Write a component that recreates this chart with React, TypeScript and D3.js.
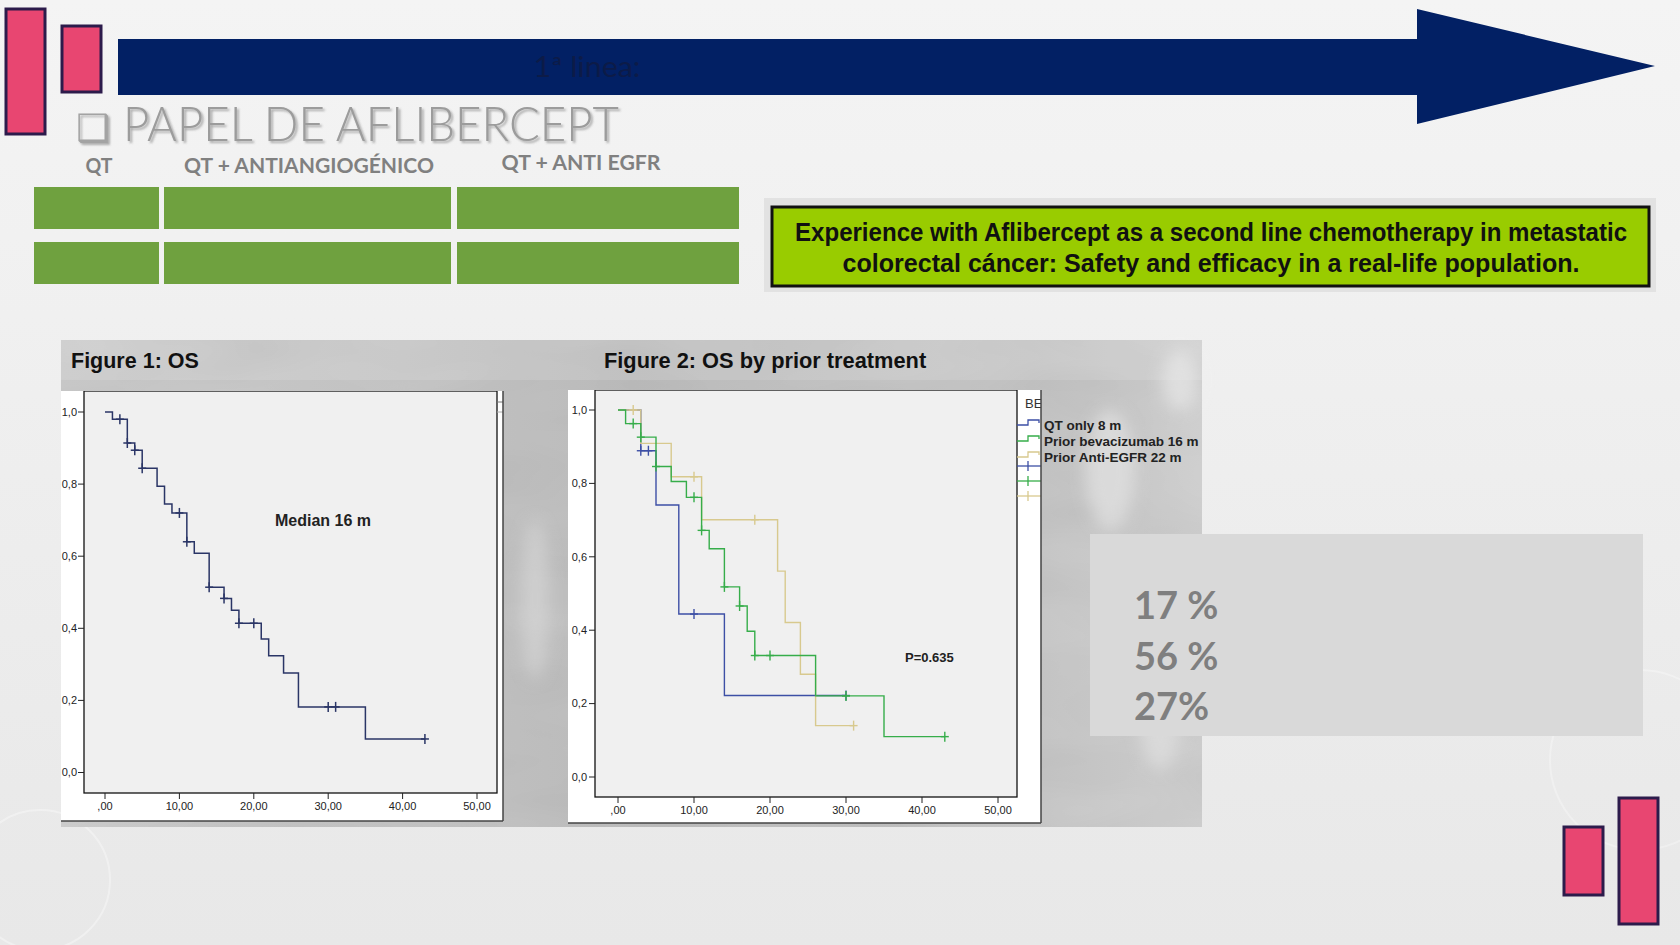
import React from 'react';
import * as d3 from 'd3';

const W = 1680;
const H = 945;

// ---- slide texts ----
const arrowLabel = '1ª linea:';
const sectionTitle = 'PAPEL DE AFLIBERCEPT';
const lineTypes = ['QT', 'QT + ANTIANGIOGÉNICO', 'QT + ANTI EGFR'];
const titleLines = [
  'Experience with Aflibercept as a second line chemotherapy in metastatic',
  'colorectal cáncer: Safety and efficacy in a real-life population.',
];
const percentLabels = ['17 %', '56 %', '27%'];

// ---- axis ticks ----
const xTicks = [0, 10, 20, 30, 40, 50];
const xTickLabels = [',00', '10,00', '20,00', '30,00', '40,00', '50,00'];
const yTicks = [0, 0.2, 0.4, 0.6, 0.8, 1.0];
const yTickLabels = ['0,0', '0,2', '0,4', '0,6', '0,8', '1,0'];

// ---- Figure 1: overall survival ----
const osTimes = [0, 1, 3, 4, 5, 7, 8, 9, 11, 12, 14, 16, 17, 18, 21, 22, 24, 26, 35, 43];
const osSurv = [1, 0.98, 0.914, 0.894, 0.844, 0.794, 0.745, 0.72, 0.64, 0.608, 0.514, 0.483, 0.45, 0.414, 0.37, 0.324, 0.276, 0.182, 0.093, 0.093];
const osCensor = [2, 3, 4, 5, 10, 11, 14, 16, 18, 20, 30, 31, 43];

// ---- Figure 2: by prior treatment ----
const seriesNames = ['QT only 8 m', 'Prior bevacizumab 16 m', 'Prior Anti-EGFR 22 m'];
const qtTimes = [0, 3, 5, 8, 14, 30];
const qtSurv = [1, 0.889, 0.741, 0.444, 0.222, 0.222];
const qtCensor = [3, 4, 10, 30];
const bevTimes = [0, 1, 3, 5, 7, 9, 11, 12, 14, 16, 17, 18, 26, 35, 43];
const bevSurv = [1, 0.963, 0.926, 0.846, 0.805, 0.762, 0.672, 0.622, 0.518, 0.466, 0.397, 0.331, 0.221, 0.11, 0.11];
const bevCensor = [2, 3, 5, 10, 11, 14, 16, 18, 20, 30, 43];
const egfrTimes = [0, 3, 7, 11, 21, 22, 24, 26, 31];
const egfrSurv = [1, 0.909, 0.818, 0.701, 0.561, 0.421, 0.28, 0.14, 0.14];
const egfrCensor = [2, 10, 18, 31];

const survAt = (times: number[], surv: number[], t: number) => {
  const i = d3.bisectRight(times, t) - 1;
  return surv[Math.max(0, Math.min(i, surv.length - 1))];
};

type Series = { times: number[]; surv: number[]; censor: number[]; color: string; width: number };

function KM(props: {
  id: string;
  frame: { x0: number; x1: number; y0: number; y1: number };
  plot: { x0: number; x1: number; y0: number; y1: number };
  xr: [number, number];
  yr: [number, number];
  series: Series[];
  labelX: number;
  children?: React.ReactNode;
}) {
  const { frame, plot, series } = props;
  const x = d3.scaleLinear().domain([0, 50]).range(props.xr);
  const y = d3.scaleLinear().domain([0, 1]).range(props.yr);
  const line = d3
    .line<[number, number]>()
    .x((d) => x(d[0]))
    .y((d) => y(d[1]))
    .curve(d3.curveStepAfter);
  return (
    <g>
      <defs>
        <clipPath id={props.id}>
          <rect x={frame.x0} y={frame.y0} width={frame.x1 - frame.x0} height={frame.y1 - frame.y0} />
        </clipPath>
      </defs>
      <rect x={frame.x0} y={frame.y0} width={frame.x1 - frame.x0} height={frame.y1 - frame.y0} fill="#ffffff" />
      <g clipPath={`url(#${props.id})`}>
        <rect x={plot.x0} y={plot.y0} width={plot.x1 - plot.x0} height={plot.y1 - plot.y0} fill="#f0f0f0" stroke="#111" strokeWidth={1.3} />
        {yTicks.map((t, i) => (
          <g key={'y' + i}>
            <line x1={plot.x0 - 6} x2={plot.x0} y1={y(t)} y2={y(t)} stroke="#222" strokeWidth={1} />
            <text x={props.labelX} y={y(t)} dy="0.35em" textAnchor="end" fontFamily="Liberation Sans, Arial" fontSize={11} fill="#222">
              {yTickLabels[i]}
            </text>
          </g>
        ))}
        {xTicks.map((t, i) => (
          <g key={'x' + i}>
            <line x1={x(t)} x2={x(t)} y1={plot.y1} y2={plot.y1 + 6} stroke="#222" strokeWidth={1} />
            <text x={x(t)} y={plot.y1 + 17} textAnchor="middle" fontFamily="Liberation Sans, Arial" fontSize={11} fill="#222">
              {xTickLabels[i]}
            </text>
          </g>
        ))}
        {series.map((s, si) => (
          <g key={'s' + si}>
            <path
              d={line(s.times.map((t, i) => [t, s.surv[i]] as [number, number])) || ''}
              fill="none"
              stroke={s.color}
              strokeWidth={s.width}
            />
            {s.censor.map((t, ci) => {
              const cx = x(t);
              const cy = y(survAt(s.times, s.surv, t));
              return (
                <g key={ci} stroke={s.color} strokeWidth={s.width}>
                  <line x1={cx - 4} x2={cx + 4} y1={cy} y2={cy} />
                  <line x1={cx} x2={cx} y1={cy - 5} y2={cy + 5} />
                </g>
              );
            })}
          </g>
        ))}
        {props.children}
      </g>
      <line x1={frame.x0} x2={frame.x1} y1={frame.y1} y2={frame.y1} stroke="#444" strokeWidth={1.5} />
      <line x1={frame.x1} x2={frame.x1} y1={frame.y0} y2={frame.y1} stroke="#444" strokeWidth={1.5} />
    </g>
  );
}

export default function App() {
  const fig2Colors = ['#3d4fa5', '#36ad4a', '#d8c98e'];
  const fig2Series: Series[] = [
    { times: qtTimes, surv: qtSurv, censor: qtCensor, color: fig2Colors[0], width: 1.4 },
    { times: egfrTimes, surv: egfrSurv, censor: egfrCensor, color: fig2Colors[2], width: 1.4 },
    { times: bevTimes, surv: bevSurv, censor: bevCensor, color: fig2Colors[1], width: 1.4 },
  ];
  const colX = [34, 164, 457];
  const colW = [125, 287, 282];
  const headerX = [99, 309, 581];
  const headerW = [27, 250, 159];
  const headerY = [166, 166, 163];
  const legendY = [425, 441, 457];
  const titleScale = [0.86, 0.86];

  return (
    <div style={{ position: 'absolute', left: 0, top: 0 }}>
      <svg width={W} height={H} viewBox={`0 0 ${W} ${H}`} style={{ display: 'block' }}>
        <defs>
          <linearGradient id="bg" x1="0" y1="0" x2="0" y2="1">
            <stop offset="0" stopColor="#f4f4f4" />
            <stop offset="1" stopColor="#e8e8e8" />
          </linearGradient>
          <linearGradient id="tex" x1="0" y1="0" x2="1" y2="0">
            <stop offset="0" stopColor="#c9c9c9" />
            <stop offset="0.3" stopColor="#c2c2c2" />
            <stop offset="0.5" stopColor="#bababa" />
            <stop offset="0.85" stopColor="#c4c4c4" />
            <stop offset="1" stopColor="#cfcfcf" />
          </linearGradient>
          <filter id="noise" x="0" y="0" width="1" height="1">
            <feTurbulence type="fractalNoise" baseFrequency="0.006 0.02" numOctaves={2} seed={7} result="n" />
            <feColorMatrix type="saturate" values="0" in="n" result="g" />
            <feComponentTransfer in="g">
              <feFuncA type="linear" slope={0} intercept={0.25} />
            </feComponentTransfer>
          </filter>
          <filter id="blur8">
            <feGaussianBlur stdDeviation={8} />
          </filter>
          <filter id="shadow" x="-5%" y="-20%" width="110%" height="150%">
            <feDropShadow dx={2} dy={2} stdDeviation={1.2} floodColor="#555" floodOpacity={0.45} />
          </filter>
        </defs>

        {/* background */}
        <rect x={0} y={0} width={W} height={H} fill="url(#bg)" />
        <circle cx={40} cy={880} r={70} fill="none" stroke="#ffffff" strokeOpacity={0.35} strokeWidth={2} />
        <circle cx={1640} cy={760} r={90} fill="none" stroke="#ffffff" strokeOpacity={0.3} strokeWidth={2} />

        {/* pink decorations */}
        <rect x={6} y={9} width={39} height={125} fill="#e84671" stroke="#2c1b4b" strokeWidth={3} />
        <rect x={62} y={26} width={39} height={66} fill="#e84671" stroke="#2c1b4b" strokeWidth={3} />
        <rect x={1564} y={827} width={39} height={68} fill="#e84671" stroke="#2c1b4b" strokeWidth={3} />
        <rect x={1619} y={798} width={39} height={126} fill="#e84671" stroke="#2c1b4b" strokeWidth={3} />

        {/* arrow */}
        <path d="M118,39 L1417,39 L1417,9 L1655,66 L1417,124 L1417,95 L118,95 Z" fill="#022064" />
        <text x={587} y={67} dy="0.35em" textAnchor="middle" fontFamily="Lato, sans-serif" fontSize={28} fill="#0c1b48" textLength={107} lengthAdjust="spacingAndGlyphs">
          {arrowLabel}
        </text>

        {/* section title */}
        <g filter="url(#shadow)">
          <text x={76} y={141} fontFamily="DejaVu Sans" fontSize={38} fill="#a3a3a3">
            ❑
          </text>
          <text x={123} y={141} fontFamily="Lato, sans-serif" fontWeight={300} fontSize={47} fill="#9c9c9c" textLength={496} lengthAdjust="spacingAndGlyphs">
            {sectionTitle}
          </text>
        </g>

        {/* line headers and green bars */}
        {lineTypes.map((t, i) => (
          <text
            key={'h' + i}
            x={headerX[i]}
            y={headerY[i]}
            dy="0.35em"
            textAnchor="middle"
            fontFamily="Lato, sans-serif"
            fontWeight={700}
            fontSize={20}
            fill="#808080"
            textLength={headerW[i]}
            lengthAdjust="spacingAndGlyphs"
          >
            {t}
          </text>
        ))}
        {[187, 242].map((ry, r) =>
          colX.map((cx, c) => <rect key={`g${r}${c}`} x={cx} y={ry} width={colW[c]} height={42} fill="#6fa13f" />)
        )}

        {/* title box */}
        <rect x={764} y={198} width={892} height={94} fill="#e2e2e2" />
        <rect x={772} y={207} width={877} height={79} fill="#99cc00" stroke="#111" strokeWidth={3} />
        {titleLines.map((l, i) => (
          <g key={'t' + i} transform={`translate(1211, ${232 + i * 31}) scale(${titleScale[i]}, 1)`}>
            <text
              x={0}
              y={0}
              dy="0.35em"
              textAnchor="middle"
              fontFamily="Liberation Sans Narrow, Liberation Sans, Arial"
              fontWeight={700}
              fontSize={25}
              fill="#111"
              textLength={(i === 0 ? 832 : 737) / titleScale[i]}
              lengthAdjust="spacingAndGlyphs"
            >
              {l}
            </text>
          </g>
        ))}

        {/* textured photo panel */}
        <rect x={61} y={340} width={1141} height={487} fill="url(#tex)" />
        <rect x={61} y={340} width={1141} height={487} filter="url(#noise)" fill="#fff" opacity={0.45} />
        <rect x={61} y={340} width={1141} height={40} fill="#ffffff" opacity={0.12} />
        <g filter="url(#blur8)" opacity={0.55}>
          <ellipse cx={1110} cy={470} rx={25} ry={60} fill="#ececec" />
          <ellipse cx={1160} cy={720} rx={20} ry={50} fill="#e6e6e6" />
          <ellipse cx={1180} cy={380} rx={18} ry={30} fill="#f0f0f0" />
          <ellipse cx={535} cy={600} rx={14} ry={80} fill="#dcdcdc" />
        </g>

        <text x={71} y={360} dy="0.35em" fontFamily="Liberation Sans, Arial" fontWeight={700} fontSize={21.5} fill="#111">
          Figure 1: OS
        </text>
        <text x={604} y={360} dy="0.35em" fontFamily="Liberation Sans, Arial" fontWeight={700} fontSize={21.8} fill="#111">
          Figure 2: OS by prior treatment
        </text>

        {/* Figure 1 */}
        <KM
          id="c1"
          frame={{ x0: 61, x1: 503, y0: 391, y1: 821 }}
          plot={{ x0: 84, x1: 497, y0: 391, y1: 793 }}
          xr={[105, 477]}
          yr={[772.5, 412]}
          labelX={77}
          series={[{ times: osTimes, surv: osSurv, censor: osCensor, color: '#2a3566', width: 1.5 }]}
        >
          <text x={275} y={520} dy="0.35em" fontFamily="Liberation Sans, Arial" fontWeight={700} fontSize={16} fill="#222">
            Median 16 m
          </text>
          <line x1={497} x2={503} y1={402} y2={402} stroke="#777" />
          <line x1={497} x2={503} y1={412} y2={412} stroke="#aaa" />
        </KM>

        {/* Figure 2 */}
        <KM
          id="c2"
          frame={{ x0: 568, x1: 1041, y0: 390, y1: 823 }}
          plot={{ x0: 595, x1: 1017, y0: 390, y1: 797 }}
          xr={[618, 998]}
          yr={[777, 410]}
          labelX={587}
          series={fig2Series}
        >
          <text x={905} y={657} dy="0.35em" fontFamily="Liberation Sans, Arial" fontWeight={700} fontSize={13} fill="#222">
            P=0.635
          </text>
          <text x={1025} y={403} dy="0.35em" fontFamily="Liberation Sans, Arial" fontSize={13} fill="#333">
            BEV
          </text>
          {fig2Colors.map((c, i) => (
            <path
              key={'li' + i}
              d={`M1017,${legendY[i]} L1028,${legendY[i]} L1028,${legendY[i] - 5} L1039,${legendY[i] - 5} L1039,${legendY[i] - 2}`}
              fill="none"
              stroke={c}
              strokeWidth={1.3}
            />
          ))}
          {fig2Colors.map((c, i) => (
            <g key={'lc' + i} stroke={c} strokeWidth={1.3}>
              <line x1={1017} x2={1041} y1={466 + i * 15} y2={466 + i * 15} />
              <line x1={1028} x2={1028} y1={461 + i * 15} y2={471 + i * 15} />
            </g>
          ))}
        </KM>
        {seriesNames.map((s, i) => (
          <text key={'ln' + i} x={1044} y={legendY[i]} dy="0.35em" fontFamily="Liberation Sans, Arial" fontWeight={700} fontSize={13.5} fill="#222">
            {s}
          </text>
        ))}

        {/* percentage box */}
        <rect x={1090} y={534} width={553} height={202} fill="#d9d9d9" />
        {percentLabels.map((p, i) => (
          <text key={'p' + i} x={1134} y={606 + i * 50.5} dy="0.35em" fontFamily="Lato, sans-serif" fontWeight={700} fontSize={38} fill="#7f7f7f">
            {p}
          </text>
        ))}
      </svg>
    </div>
  );
}
